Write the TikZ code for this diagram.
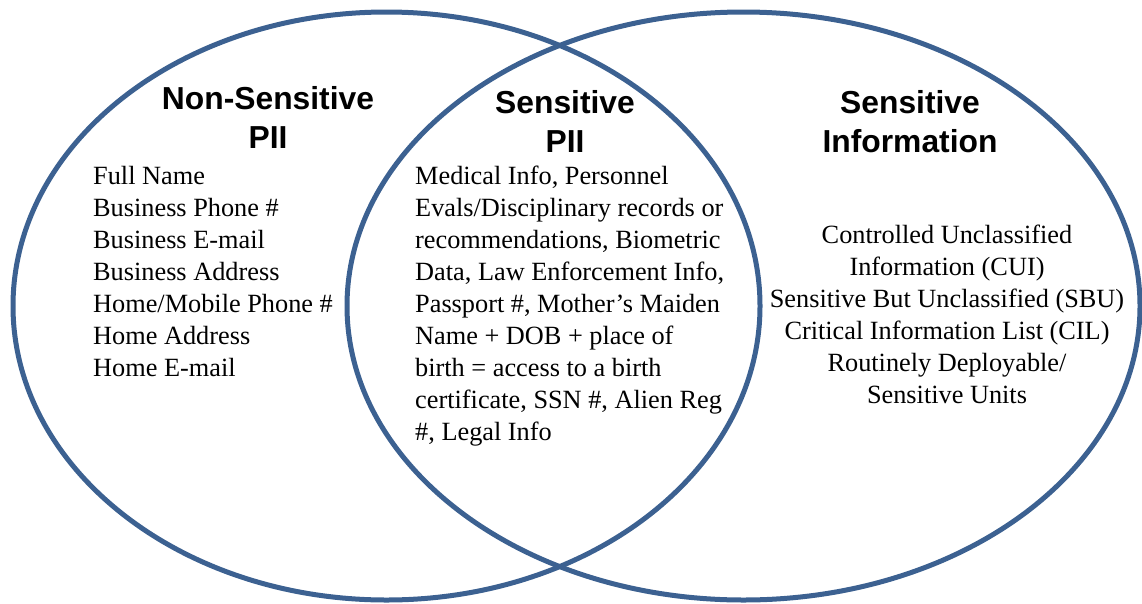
\documentclass[tikz,border=0pt]{standalone}
\usepackage{fontspec}
\setmainfont{Liberation Serif}
\newfontfamily\headfont{Liberation Sans}
\definecolor{vennblue}{RGB}{60,97,145}
\begin{document}
\begin{tikzpicture}[x=1pt,y=-1pt,
  venn/.style={draw=vennblue, line width=5pt},
  head/.style={font=\headfont\bfseries\fontsize{31.8}{39}\selectfont, align=center, inner sep=0pt},
  body/.style={font=\fontsize{26.3}{32}\selectfont, inner sep=0pt}]
\useasboundingbox (0,0) rectangle (1142,603);
\draw[venn] (386.5,306) ellipse [x radius=373.5pt, y radius=294pt];
\draw[venn] (743.5,306) ellipse [x radius=396.5pt, y radius=294pt];
\node[head, anchor=base] (nsh) at (268,148) {Non-Sensitive\\PII};
\node[head, anchor=base] (sph) at (565,152) {Sensitive\\PII};
\node[head, anchor=base] (sih) at (910,152) {Sensitive\\Information};
\node[body, align=left, anchor=base west] (nsl) at (93,376) {Full Name\\Business Phone \#\\Business E-mail\\Business Address\\Home/Mobile Phone \#\\Home Address\\Home E-mail};
\node[body, align=left, anchor=base west] (spl) at (415,440) {Medical Info, Personnel\\Evals/Disciplinary records or\\recommendations, Biometric\\Data, Law Enforcement Info,\\Passport \#, Mother’s Maiden\\Name + DOB + place of\\birth = access to a birth\\certificate, SSN \#, Alien Reg\\\#, Legal Info};
\node[body, align=center, anchor=base] (sil) at (947,403) {Controlled Unclassified\\Information (CUI)\\Sensitive But Unclassified (SBU)\\Critical Information List (CIL)\\Routinely Deployable/\\Sensitive Units};
\end{tikzpicture}
\end{document}
